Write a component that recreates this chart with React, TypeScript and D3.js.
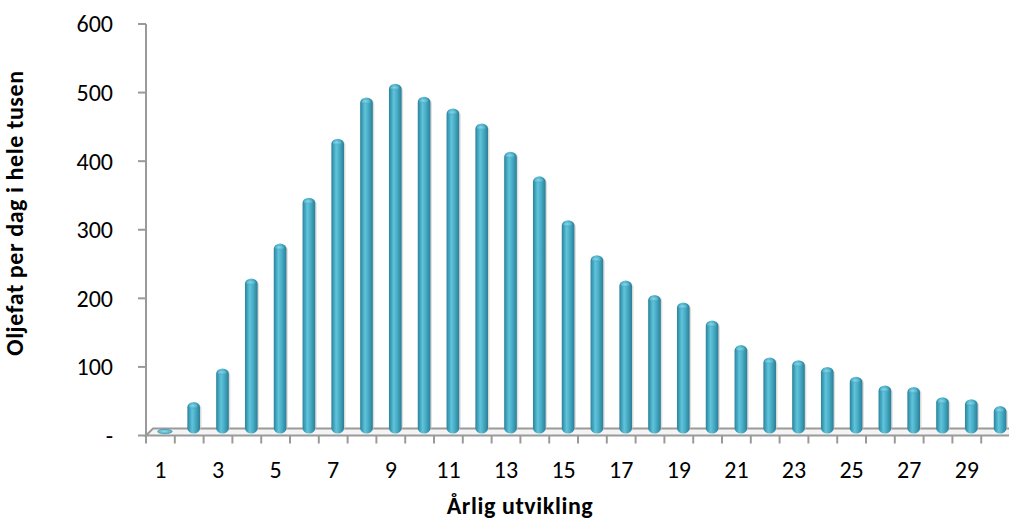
import React from 'react';
import * as d3 from 'd3';

// Year index 1..30
const years: number[] = d3.range(1, 31);

// Oil barrels per day (thousands)
const production: number[] = [
  2, 43, 92, 223, 274, 341, 427, 487, 507, 488,
  471, 449, 408, 372, 308, 257, 220, 199, 188, 162,
  126, 108, 104, 94, 80, 67, 65, 50, 47, 37,
];

const yTicks: number[] = [0, 100, 200, 300, 400, 500, 600];
const xTickLabels: number[] = [1, 3, 5, 7, 9, 11, 13, 15, 17, 19, 21, 23, 25, 27, 29];

const yTitle = 'Oljefat per dag i hele tusen';
const xTitle = 'Årlig utvikling';

const W = 1009;
const H = 521;
const FONT = 'Carlito, Calibri, Lato, "Open Sans", sans-serif';

const App: React.FC = () => {
  const margin = { left: 146, top: 24, bottom: 435.5 };
  const step = 28.8;

  // X scale: one band per year
  const x = d3
    .scaleBand<number>()
    .domain(years)
    .range([margin.left, margin.left + step * years.length])
    .paddingInner(0.56)
    .paddingOuter(0.28);

  // Y scale
  const y = d3.scaleLinear().domain([0, 600]).range([margin.bottom, margin.top]);

  // 3D depth offset
  const dx = 4.5;
  const dy = -4;
  const bw = x.bandwidth();
  const axisColor = '#9a9a9a';
  const right = margin.left + step * years.length;

  const fmtY = (v: number) => (v === 0 ? '-' : String(v));

  return (
    <svg
      width={W}
      height={H}
      style={{ position: 'absolute', left: 0, top: 0, background: '#fff' }}
      fontFamily={FONT}
    >
      <defs>
        <linearGradient id="cyl" x1="0" x2="1" y1="0" y2="0">
          <stop offset="0%" stopColor="#2c8199" />
          <stop offset="18%" stopColor="#3fa3bd" />
          <stop offset="38%" stopColor="#62c3da" />
          <stop offset="60%" stopColor="#4bb0c9" />
          <stop offset="100%" stopColor="#2a7f97" />
        </linearGradient>
        <radialGradient id="cap" cx="0.45" cy="0.45" r="0.6">
          <stop offset="0%" stopColor="#8fd8ea" />
          <stop offset="100%" stopColor="#45a9c2" />
        </radialGradient>
      </defs>

      {/* Floor */}
      <polygon
        points={`${margin.left},${margin.bottom} ${margin.left + dx + 2.5},${margin.bottom + dy - 3} ${right + 10},${margin.bottom + dy - 3} ${right + 10},${margin.bottom}`}
        fill="#f4f4f4"
        stroke={axisColor}
        strokeWidth={2}
      />

      {/* Y axis */}
      <line x1={margin.left} x2={margin.left} y1={margin.top} y2={margin.bottom} stroke={axisColor} strokeWidth={2} />
      {yTicks.map(t => (
        <g key={t}>
          <line x1={margin.left - 8} x2={margin.left} y1={y(t)} y2={y(t)} stroke={axisColor} strokeWidth={2} />
          <text
            x={113}
            y={y(t)}
            dy="0.35em"
            textAnchor="end"
            fontSize={24}
            fill="#000"
          >
            {fmtY(t)}
          </text>
        </g>
      ))}

      {/* X axis ticks */}
      {d3.range(0, years.length + 1).map(i => (
        <line
          key={i}
          x1={margin.left + step * i}
          x2={margin.left + step * i}
          y1={margin.bottom}
          y2={margin.bottom + 8}
          stroke={axisColor}
          strokeWidth={2}
        />
      ))}
      {xTickLabels.map(t => (
        <text
          key={t}
          x={(x(t) || 0) + bw / 2}
          y={478}
          textAnchor="middle"
          fontSize={24}
          fill="#000"
        >
          {t}
        </text>
      ))}

      {/* Cylinder bars */}
      <g>
        {years.map((yr, i) => {
          const v = production[i];
          const bx = (x(yr) || 0) + dx;
          const top = y(v) + dy;
          const base = y(0) + dy;
          const h = Math.max(base - top, 0);
          if (h < 4) {
            return (
              <ellipse
                key={yr}
                cx={bx + bw / 2}
                cy={base}
                rx={bw / 2 + 1}
                ry={2.2}
                fill="url(#cap)"
                stroke="#2f8aa3"
                strokeWidth={0.6}
              />
            );
          }
          return (
            <g key={yr}>
              <rect x={bx + 1.5} y={top + 1} width={bw} height={h} rx={bw / 2} fill="#c8c8c8" opacity={0.6} />
              <rect x={bx} y={top} width={bw} height={h + 2} rx={bw / 2} ry={bw / 2.4} fill="url(#cyl)" />
              <ellipse cx={bx + bw / 2 - 0.5} cy={top + 4} rx={bw / 2 - 2} ry={2.4} fill="url(#cap)" opacity={0.9} />
            </g>
          );
        })}
      </g>

      {/* Axis titles */}
      <text
        transform={`translate(23, 213) rotate(-90)`}
        textAnchor="middle"
        fontSize={24}
        fontWeight="bold"
        letterSpacing={0.6}
        fill="#000"
      >
        {yTitle}
      </text>
      <text x={520} y={514} textAnchor="middle" fontSize={24} fontWeight="bold" letterSpacing={0.6} fill="#000">
        {xTitle}
      </text>
    </svg>
  );
};

export default App;
